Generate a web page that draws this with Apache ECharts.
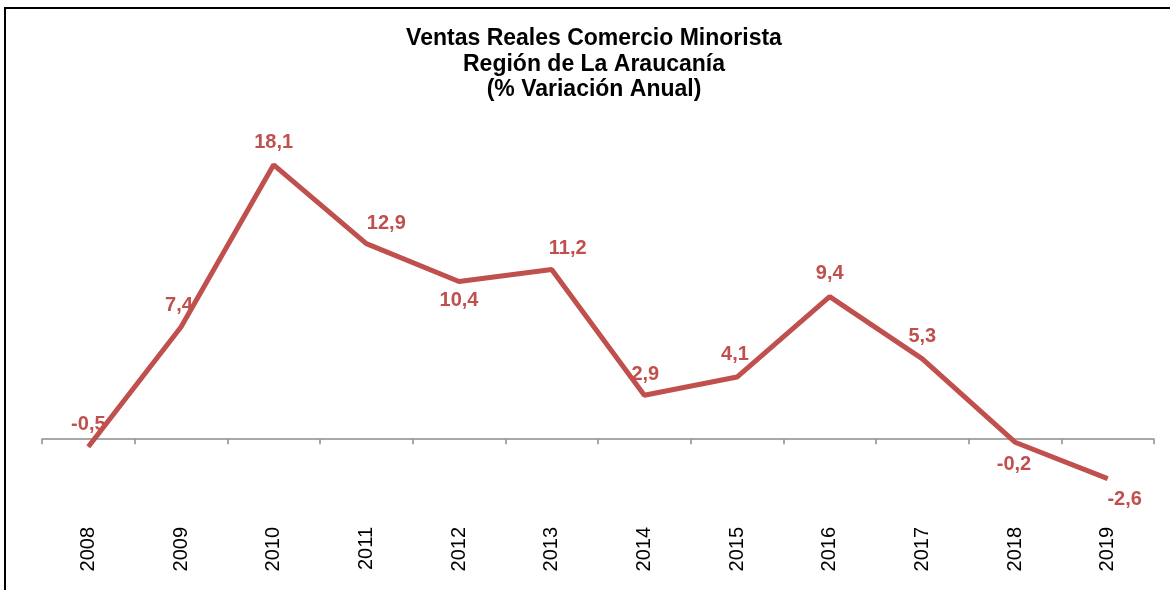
<!DOCTYPE html>
<html>
<head>
<meta charset="utf-8">
<script src="https://cdn.jsdelivr.net/npm/echarts@6/dist/echarts.min.js"></script>
<style>
  html, body { margin: 0; padding: 0; background: #fff; }
  #chart { width: 1170px; height: 590px; }
</style>
</head>
<body>
<div id="chart"></div>
<script>
// datos
const years = ['2008', '2009', '2010', '2011', '2012', '2013', '2014', '2015', '2016', '2017', '2018', '2019']
const ventas = [-0.5, 7.4, 18.1, 12.9, 10.4, 11.2, 2.9, 4.1, 9.4, 5.3, -0.2, -2.6]

// where each value label sits relative to its point (px)
const labelOffsets = [
  [0, -22], [-2, -22], [0, -22], [20, -20], [0, 19], [16, -21],
  [1, -21], [-2, -23], [0, -23], [0, -22], [-1, 22], [17, 21]
]

const red = '#C0504D'

const seriesData = ventas.map((v, i) => ({
  value: v,
  label: { offset: labelOffsets[i] }
}))

const chart = echarts.init(document.getElementById('chart'))
chart.setOption({
  animation: false,
  backgroundColor: '#fff',
  title: {
    text: 'Ventas Reales Comercio Minorista\nRegión de La Araucanía\n(% Variación Anual)',
    left: 589,
    top: 21,
    textAlign: 'center',
    textStyle: {
      fontFamily: 'Liberation Sans, Arial, sans-serif',
      fontSize: 23,
      fontWeight: 'bold',
      color: '#000',
      lineHeight: 25.5
    }
  },
  graphic: [{
    type: 'rect',
    shape: { x: 5, y: 8, width: 1300, height: 800 },
    style: { fill: 'none', stroke: '#000', lineWidth: 2 },
    silent: true
  }],
  grid: { left: 42, right: 16, top: 136, bottom: 75, containLabel: false, outerBoundsMode: 'none' },
  xAxis: {
    type: 'category',
    data: years,
    boundaryGap: true,
    axisLine: { onZero: true, lineStyle: { color: '#8c8c8c', width: 1.5 } },
    axisTick: { show: true, length: 5, lineStyle: { color: '#8c8c8c', width: 1.5 } },
    axisLabel: {
      rotate: 90,
      margin: 12,
      fontFamily: 'Liberation Sans, Arial, sans-serif',
      fontSize: 20,
      color: '#000'
    },
    splitLine: { show: false }
  },
  yAxis: {
    type: 'value',
    min: -5,
    max: 20,
    show: false,
    splitLine: { show: false }
  },
  series: [{
    type: 'line',
    data: seriesData,
    symbol: 'circle',
    symbolSize: 1,
    itemStyle: { color: red },
    lineStyle: { color: red, width: 5 },
    label: {
      show: true,
      position: 'inside',
      fontFamily: 'Liberation Sans, Arial, sans-serif',
      fontSize: 20,
      fontWeight: 'bold',
      color: red,
      formatter: p => p.value.toFixed(1).replace('.', ',')
    }
  }]
})
</script>
</body>
</html>
